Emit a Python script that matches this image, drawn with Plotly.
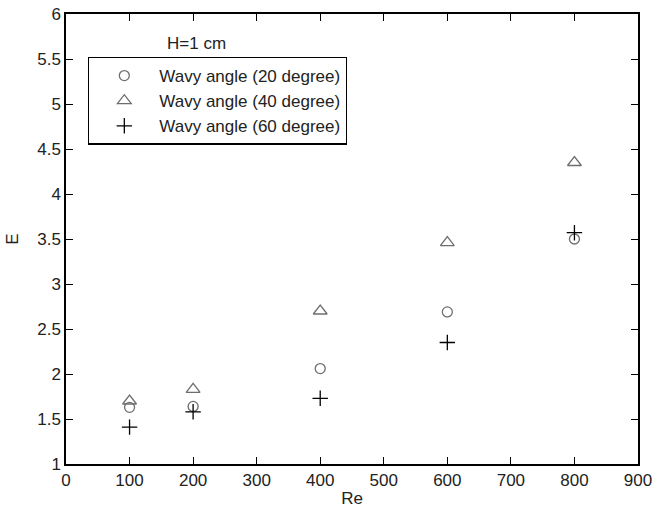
import plotly.graph_objects as go

# Reynolds numbers and enhancement factor E for each wavy angle (H = 1 cm)
re_values = [100, 200, 400, 600, 800]
e_20deg = [1.63, 1.64, 2.06, 2.69, 3.50]
e_40deg = [1.70, 1.83, 2.70, 3.46, 4.35]
e_60deg = [1.41, 1.58, 1.73, 2.35, 3.57]

series_names = ["Wavy angle (20 degree)", "Wavy angle (40 degree)", "Wavy angle (60 degree)"]
x_ticks = [0, 100, 200, 300, 400, 500, 600, 700, 800, 900]
y_ticks = [1, 1.5, 2, 2.5, 3, 3.5, 4, 4.5, 5, 5.5, 6]
y_tick_text = ["1", "1.5", "2", "2.5", "3", "3.5", "4", "4.5", "5", "5.5", "6"]

FONT = "Liberation Sans, Arial, sans-serif"
GREY = "#6e6e6e"
TEXT = "#222222"
FS = 17

fig = go.Figure()
fig.add_trace(go.Scatter(
    x=re_values, y=e_20deg, mode="markers", name=series_names[0], legendgroup="a",
    marker=dict(symbol="circle-open", size=10, color=GREY, line=dict(width=1.3, color=GREY)),
))
fig.add_trace(go.Scatter(
    x=re_values, y=e_40deg, mode="markers", name=series_names[1], legendgroup="b",
    marker=dict(symbol="triangle-up-open", size=12, color=GREY, line=dict(width=1.3, color=GREY)),
))
fig.add_trace(go.Scatter(
    x=re_values, y=e_60deg, mode="markers", name=series_names[2], legendgroup="c",
    marker=dict(symbol="cross-thin-open", size=11, color="black", line=dict(width=1.3, color="black")),
))

axis_common = dict(
    showline=True, linecolor="black", linewidth=1.5, mirror="ticks",
    ticks="inside", ticklen=7, tickwidth=1.3, tickcolor="black",
    showgrid=False, zeroline=False, automargin=False,
    tickfont=dict(family=FONT, size=FS, color=TEXT),
)

fig.update_layout(
    width=654, height=510,
    margin=dict(l=66, r=16, t=14, b=46),
    paper_bgcolor="white", plot_bgcolor="white",
    font=dict(family=FONT, size=FS, color=TEXT),
    xaxis=dict(range=[0, 900], tickvals=x_ticks, **axis_common,
               title=dict(text="Re", font=dict(family=FONT, size=FS, color=TEXT), standoff=3)),
    yaxis=dict(range=[1, 6], tickvals=y_ticks, ticktext=y_tick_text, **axis_common,
               title=dict(text="E", font=dict(family=FONT, size=FS, color=TEXT), standoff=14)),
    legend=dict(
        x=0.0385, y=0.905, xanchor="left", yanchor="top",
        bordercolor="black", borderwidth=1.3, bgcolor="white",
        font=dict(family=FONT, size=FS, color=TEXT),
        itemwidth=60, tracegroupgap=0,
    ),
    showlegend=True,
    annotations=[dict(
        text="H=1 cm", xref="paper", yref="paper", x=0.229, y=0.908,
        xanchor="center", yanchor="bottom", showarrow=False,
        font=dict(family=FONT, size=FS, color=TEXT),
    )],
)

fig.write_html("out.html")
